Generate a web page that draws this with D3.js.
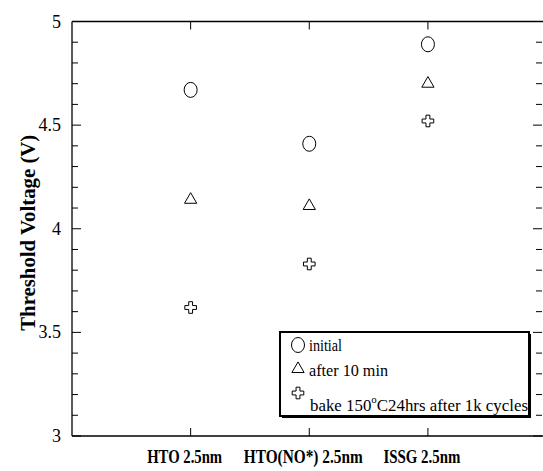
<!DOCTYPE html>
<html>
<head>
<meta charset="utf-8">
<script src="https://cdn.jsdelivr.net/npm/d3@7"></script>
<style>
  body { margin: 0; background: #fff; }
  text { font-family: "Liberation Serif", "Times New Roman", serif; fill: #000; }
</style>
</head>
<body>
<svg id="chart"></svg>
<script>
// chart data
const categories = ['HTO 2.5nm', 'HTO(NO*) 2.5nm', 'ISSG 2.5nm'];
const initial = [4.67, 4.41, 4.89];
const after10min = [4.14, 4.11, 4.70];
const bakeAfterCycles = [3.62, 3.83, 4.52];
const yTicks = [3, 3.5, 4, 4.5, 5];

const seriesNames = ['initial', 'after 10 min', 'bake'];
const series = [initial, after10min, bakeAfterCycles];

const width = 543, height = 471;
const margin = { left: 72, right: 0, top: 21.5, bottom: 35 };

const svg = d3.select('#chart')
  .attr('width', width)
  .attr('height', height);

// x: categories sit at 1, 2, 3
const x = d3.scaleLinear()
  .domain([0, 3.97])
  .range([margin.left, width - margin.right]);

const y = d3.scaleLinear()
  .domain([3, 5])
  .range([height - margin.bottom, margin.top]);

const minorTicks = d3.range(3, 5.001, 0.1).map(d => +d.toFixed(1));

// frame
const frame = svg.append('g').attr('stroke', '#000').attr('stroke-width', 1.3);
frame.append('line').attr('x1', x(0)).attr('x2', width).attr('y1', y(5)).attr('y2', y(5));
frame.append('line').attr('x1', x(0)).attr('x2', width).attr('y1', y(3)).attr('y2', y(3));
frame.append('line').attr('x1', x(0)).attr('x2', x(0)).attr('y1', y(5)).attr('y2', y(3));

// y ticks on left and right
const tk = svg.append('g').attr('stroke', '#000').attr('stroke-width', 1);
minorTicks.forEach(v => {
  const major = yTicks.includes(v);
  const len = major ? 9 : 6;
  tk.append('line').attr('x1', x(0)).attr('x2', x(0) + len).attr('y1', y(v)).attr('y2', y(v));
  tk.append('line').attr('x1', width - 1).attr('x2', width - 1 - len).attr('y1', y(v)).attr('y2', y(v));
});

// category ticks top and bottom
[1, 2, 3].forEach(c => {
  tk.append('line').attr('x1', x(c)).attr('x2', x(c)).attr('y1', y(5)).attr('y2', y(5) + 8);
  tk.append('line').attr('x1', x(c)).attr('x2', x(c)).attr('y1', y(3)).attr('y2', y(3) - 8);
});

// y tick labels
svg.append('g').selectAll('text')
  .data(yTicks)
  .join('text')
  .attr('x', x(0) - 11)
  .attr('y', d => y(d) + 6)
  .attr('text-anchor', 'end')
  .attr('font-size', 18)
  .text(d => d);

// y axis title
svg.append('text')
  .attr('transform', `translate(35,${(y(3) + y(5)) / 2 + 4}) rotate(-90)`)
  .attr('text-anchor', 'middle')
  .attr('font-size', 21)
  .attr('font-weight', 'bold')
  .attr('textLength', 196)
  .attr('lengthAdjust', 'spacingAndGlyphs')
  .text('Threshold Voltage (V)');

// category labels
const labelWidths = [75, 119, 77];
svg.append('g').selectAll('text')
  .data(categories)
  .join('text')
  .attr('x', (d, i) => x(i + 1) - 6)
  .attr('y', 463)
  .attr('text-anchor', 'middle')
  .attr('font-size', 19)
  .attr('font-weight', 'bold')
  .attr('textLength', (d, i) => labelWidths[i])
  .attr('lengthAdjust', 'spacingAndGlyphs')
  .text(d => d);

// marker drawing
const triPath = d3.symbol().type(d3.symbolTriangle).size(65)();
const crossPath = d3.symbol().type(d3.symbolCross).size(75)();

function drawMarker(g, kind, cx, cy) {
  if (kind === 0) {
    g.append('ellipse').attr('cx', cx).attr('cy', cy).attr('rx', 6.5).attr('ry', 7.5);
  } else if (kind === 1) {
    g.append('path').attr('d', triPath).attr('transform', `translate(${cx},${cy})`);
  } else {
    g.append('path').attr('d', crossPath).attr('transform', `translate(${cx},${cy})`);
  }
}

const marks = svg.append('g')
  .attr('fill', 'none')
  .attr('stroke', '#000')
  .attr('stroke-width', 1);

series.forEach((vals, s) => {
  vals.forEach((v, i) => drawMarker(marks, s, x(i + 1), y(v)));
});

// legend
const lg = svg.append('g');
const box = { x: 280, y: 332, w: 249, h: 84 };
lg.append('rect')
  .attr('x', box.x + 2).attr('y', box.y + 2)
  .attr('width', box.w).attr('height', box.h)
  .attr('fill', '#000');
lg.append('rect')
  .attr('x', box.x).attr('y', box.y)
  .attr('width', box.w).attr('height', box.h)
  .attr('fill', '#fff').attr('stroke', '#000').attr('stroke-width', 2);

const lgMarks = lg.append('g').attr('fill', 'none').attr('stroke', '#000').attr('stroke-width', 1);
const lgRows = [345, 369, 393];
seriesNames.forEach((n, i) => drawMarker(lgMarks, i, 298, lgRows[i]));

lg.append('text').attr('x', 309).attr('y', 351).attr('font-size', 17)
  .attr('textLength', 33).attr('lengthAdjust', 'spacingAndGlyphs').text('initial');
lg.append('text').attr('x', 309).attr('y', 376).attr('font-size', 17)
  .attr('textLength', 79).attr('lengthAdjust', 'spacingAndGlyphs').text('after 10 min');

const bake = lg.append('text').attr('x', 310).attr('y', 411).attr('font-size', 17);
bake.append('tspan').text('bake 150');
bake.append('tspan').attr('dy', -8).attr('font-size', 11).text('o');
bake.append('tspan').attr('dy', 8).text('C24hrs after 1k cycles');
bake.attr('textLength', 218).attr('lengthAdjust', 'spacingAndGlyphs');
</script>
</body>
</html>
